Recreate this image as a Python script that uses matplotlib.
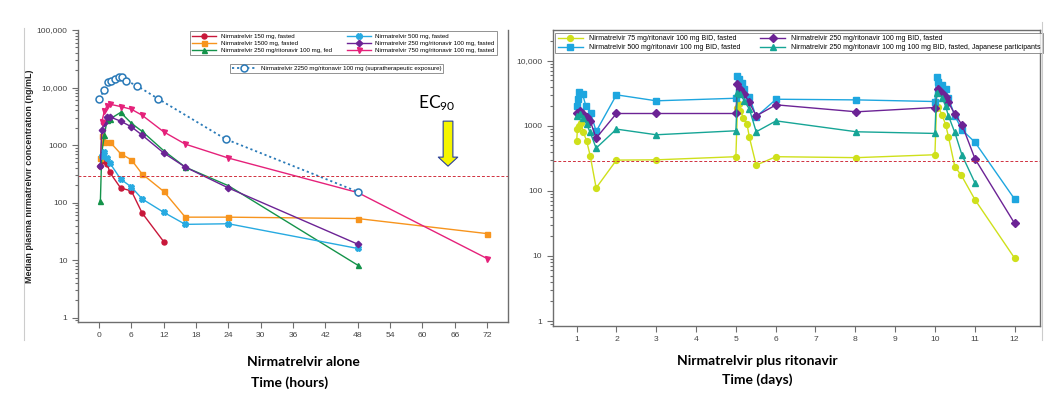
import matplotlib
matplotlib.use('Agg')
import matplotlib.pyplot as plt
from matplotlib.lines import Line2D
from matplotlib.ticker import FixedLocator, LogLocator, NullFormatter

plt.rcParams['font.family'] = ['Liberation Sans', 'DejaVu Sans']
plt.rcParams['mathtext.fontset'] = 'custom'
plt.rcParams['mathtext.rm'] = 'Lato'
plt.rcParams['mathtext.it'] = 'Lato'

# ---- left panel: nirmatrelvir alone (hours) ----
t_150 = [0.25, 1, 1.5, 2, 4, 6, 8, 12]
c_150 = [440, 535, 475, 335, 180, 160, 66, 21]

t_1500 = [0.25, 0.5, 1, 2, 4, 6, 8, 12, 16, 24, 48, 72]
c_1500 = [595, 1450, 1140, 1140, 710, 555, 315, 157, 56, 56, 53, 29]

t_250_fed = [0.25, 0.5, 1, 1.5, 2, 4, 6, 8, 12, 16, 24, 48]
c_250_fed = [108, 730, 1510, 2750, 2830, 3700, 2400, 1730, 800, 415, 197, 8.2]

t_500 = [0.5, 1, 1.5, 2, 4, 6, 8, 12, 16, 24, 48]
c_500 = [635, 745, 595, 490, 257, 187, 116, 68, 42, 43, 16]

t_250_rit = [0.25, 0.5, 1, 1.5, 2, 4, 6, 8, 12, 16, 24, 48]
c_250_rit = [430, 1850, 2470, 3020, 3100, 2610, 2080, 1490, 730, 415, 180, 19]

t_750_rit = [0.5, 1, 1.5, 2, 4, 6, 8, 12, 16, 24, 48, 72]
c_750_rit = [2500, 3940, 4810, 5140, 4680, 4200, 3300, 1700, 1040, 596, 150, 10.7]

t_2250 = [0, 1, 1.75, 2.25, 3, 3.75, 4.25, 5, 7, 11, 23.5, 48]
c_2250 = [6350, 9100, 12400, 13100, 14300, 15500, 15500, 13200, 10800, 6350, 1270, 155]

left_labels = ['Nirmatrelvir 150 mg, fasted',
               'Nirmatrelvir 1500 mg, fasted',
               'Nirmatrelvir 250 mg/ritonavir 100 mg, fed',
               'Nirmatrelvir 500 mg, fasted',
               'Nirmatrelvir 250 mg/ritonavir 100 mg, fasted',
               'Nirmatrelvir 750 mg/ritonavir 100 mg, fasted']
supra_label = 'Nirmatrelvir 2250 mg/ritonavir 100 mg (supratherapeutic exposure)'
hour_ticks = [0, 6, 12, 18, 24, 30, 36, 42, 48, 54, 60, 66, 72]

# ---- right panel: nirmatrelvir plus ritonavir (days) ----
d_75 = [1.0, 1.02, 1.07, 1.11, 1.17, 1.25, 1.34, 1.49, 2.0, 3.0, 5.0, 5.04, 5.07, 5.11, 5.19,
        5.28, 5.34, 5.51, 6.01, 8.03, 10.0, 10.04, 10.08, 10.18, 10.27, 10.34, 10.5, 10.66,
        11.01, 12.0]
c_75 = [575, 890, 1000, 1090, 790, 589, 347, 111, 297, 300, 335, 1910, 2140, 1700, 1340,
        1060, 662, 249, 335, 324, 359, 1910, 1960, 1475, 1036, 678, 235, 175, 72.5, 9.3]

d_500 = [1.0, 1.04, 1.07, 1.15, 1.23, 1.35, 1.49, 2.0, 3.0, 5.0, 5.04, 5.08, 5.15, 5.21,
         5.34, 5.51, 6.01, 8.03, 10.0, 10.04, 10.08, 10.18, 10.27, 10.34, 10.5, 10.68,
         11.01, 12.0]
c_500r = [2030, 2560, 3250, 3060, 2030, 1600, 819, 2990, 2420, 2650, 5850, 5200, 4620, 3650,
          2790, 1375, 2560, 2500, 2360, 5650, 4790, 4260, 3650, 2660, 1420, 868, 555, 75]

d_250 = [1.0, 1.08, 1.17, 1.25, 1.34, 1.49, 2.0, 3.0, 5.0, 5.04, 5.11, 5.21, 5.34, 5.51,
         6.01, 8.03, 10.0, 10.08, 10.18, 10.27, 10.34, 10.5, 10.68, 11.01, 12.0]
c_250r = [1600, 1700, 1510, 1375, 1190, 647, 1545, 1545, 1545, 4350, 3650, 3060, 2280, 1420,
          2100, 1640, 1910, 3650, 3240, 2790, 2280, 1510, 1036, 308, 31.8]

d_jp = [1.0, 1.08, 1.17, 1.25, 1.34, 1.49, 2.0, 3.0, 5.0, 5.04, 5.11, 5.21, 5.34, 5.51,
        6.01, 8.03, 10.0, 10.04, 10.18, 10.27, 10.34, 10.5, 10.68, 11.01]
c_jp = [1390, 1510, 1340, 1060, 790, 454, 889, 728, 838, 3240, 3060, 2420, 1800, 809,
        1190, 809, 763, 3240, 2720, 1980, 1420, 790, 355, 131]

right_labels = ['Nirmatrelvir 75 mg/ritonavir 100 mg BID, fasted',
                'Nirmatrelvir 500 mg/ritonavir 100 mg BID, fasted',
                'Nirmatrelvir 250 mg/ritonavir 100 mg BID, fasted',
                'Nirmatrelvir 250 mg/ritonavir 100 mg 100 mg BID, fasted, Japanese participants']
day_ticks = list(range(1, 13))

ec90 = 292

fig = plt.figure(figsize=(10.63, 3.98), dpi=100)
ax1 = fig.add_axes([0.0734, 0.191, 0.4046, 0.7336])
ax2 = fig.add_axes([0.520, 0.181, 0.458, 0.744])

spine_c = '#6e6e6e'
tick_c = '#444444'


def style_axis(ax):
    ax.set_yscale('log')
    for s in ax.spines.values():
        s.set_color(spine_c)
        s.set_linewidth(1.0)
    ax.tick_params(which='both', direction='out', color=spine_c, labelcolor=tick_c,
                   labelsize=6.1, width=0.8)
    ax.tick_params(which='major', length=4)
    ax.tick_params(which='minor', length=2)
    ax.yaxis.set_minor_locator(LogLocator(base=10, subs=range(2, 10), numticks=20))
    ax.yaxis.set_minor_formatter(NullFormatter())


ms = 3.6
lw = 1.0
style_axis(ax1)
h_red, = ax1.plot(t_150, c_150, color='#c8173a', marker='o', ms=ms, lw=lw)
h_org, = ax1.plot(t_1500, c_1500, color='#f7941d', marker='s', ms=ms, lw=lw)
h_grn, = ax1.plot(t_250_fed, c_250_fed, color='#14934a', marker='^', ms=ms, lw=lw)
h_cyn, = ax1.plot(t_500, c_500, color='#27aae1', marker='X', ms=ms + 0.4, lw=lw)
h_pur, = ax1.plot(t_250_rit, c_250_rit, color='#6c2395', marker='D', ms=ms - 0.3, lw=lw)
h_pnk, = ax1.plot(t_750_rit, c_750_rit, color='#e5217a', marker='v', ms=ms, lw=lw)
h_blu, = ax1.plot(t_2250, c_2250, color='#2a7ab8', marker='o', ms=5, lw=1.3,
                  ls=(0, (1.2, 1.6)), mfc='white', mew=1.1)
ax1.axhline(ec90, color='#d0303e', lw=0.7, ls=(0, (3, 2)))

ax1.set_xlim(-3.9, 75.9)
ax1.set_ylim(0.845, 100000)
ax1.spines['top'].set_visible(False)
ax1.xaxis.set_major_locator(FixedLocator(hour_ticks))
ax1.set_yticks([1, 10, 100, 1000, 10000, 100000])
ax1.set_yticklabels(['1', '10', '100', '1000', '10,000', '100,000'])
ax1.tick_params(right=False, which='both')
ax1.set_ylabel('Median plasma nirmatrelvir concentration (ng/mL)', fontsize=6.4,
               fontweight='bold', color='#222222', labelpad=2)

leg_kw = dict(frameon=True, fancybox=False, edgecolor='#777777', borderaxespad=0,
              handletextpad=0.8, borderpad=0.35)
leg1 = ax1.legend([h_red, h_org, h_grn, h_cyn, h_pur, h_pnk], left_labels, ncol=2,
                  loc='upper right', bbox_to_anchor=(0.974, 0.995), fontsize=4.4,
                  handlelength=3.9, columnspacing=2.4, labelspacing=0.3, **leg_kw)
leg1.get_frame().set_linewidth(0.7)
ax1.add_artist(leg1)
leg2 = ax1.legend([h_blu], [supra_label], loc='upper left',
                  bbox_to_anchor=(0.353, 0.885), fontsize=4.4, handlelength=3.9, **leg_kw)
leg2.get_frame().set_linewidth(0.7)

# EC90 marker
ax1.text(62.7, 5400, r'EC$_{90}$', fontsize=12.5, ha='center', va='center',
         family='Lato', color='black')
ax1.annotate('', xy=(64.75, 431), xytext=(64.75, 2610),
             arrowprops=dict(arrowstyle='simple,head_length=0.65,head_width=1.4,tail_width=0.7',
                             mutation_scale=10, fc='#f5f500', ec='#2a3f9a', lw=0.8,
                             shrinkA=0, shrinkB=0))

style_axis(ax2)
ms2 = 4.2
ax2.plot(d_75, c_75, color='#cfe01b', marker='o', ms=ms2, lw=lw, label=right_labels[0])
ax2.plot(d_500, c_500r, color='#1ea6df', marker='s', ms=ms2, lw=lw, label=right_labels[1])
ax2.plot(d_250, c_250r, color='#6c2395', marker='D', ms=ms2 - 0.4, lw=lw, label=right_labels[2])
ax2.plot(d_jp, c_jp, color='#16a596', marker='^', ms=ms2 - 0.3, lw=lw, label=right_labels[3])
ax2.axhline(ec90, color='#d0303e', lw=0.7, ls=(0, (3, 2)))

ax2.set_xlim(0.4, 12.63)
ax2.set_ylim(0.84, 29800)
ax2.xaxis.set_major_locator(FixedLocator(day_ticks))
ax2.set_yticks([1, 10, 100, 1000, 10000])
ax2.set_yticklabels(['1', '10', '100', '1000', '10,000'])
h2, l2 = ax2.get_legend_handles_labels()
leg3 = ax2.legend(h2, l2, ncol=2, loc='upper left', bbox_to_anchor=(0.005, 0.99),
                  fontsize=5.0, handlelength=3.7, columnspacing=2.8, labelspacing=0.25,
                  **leg_kw)
leg3.get_frame().set_linewidth(0.7)

# captions below panels
cap = dict(ha='center', va='center', fontsize=10, fontweight='bold', family='Lato')
fig.text(303 / 1063, 1 - 362 / 398, 'Nirmatrelvir alone', **cap)
fig.text(290 / 1063, 1 - 383 / 398, 'Time (hours)', **cap)
fig.text(757 / 1063, 1 - 361 / 398, 'Nirmatrelvir plus ritonavir', **cap)
fig.text(757 / 1063, 1 - 380 / 398, 'Time (days)', **cap)

# thin panel borders
fig.add_artist(Line2D([24 / 1063] * 2, [1 - 28 / 398, 1 - 340 / 398], color='#cccccc', lw=0.8))
fig.add_artist(Line2D([1042 / 1063] * 2, [1 - 22 / 398, 1 - 340 / 398], color='#cccccc', lw=0.8))

fig.savefig('out.png', dpi=100)
